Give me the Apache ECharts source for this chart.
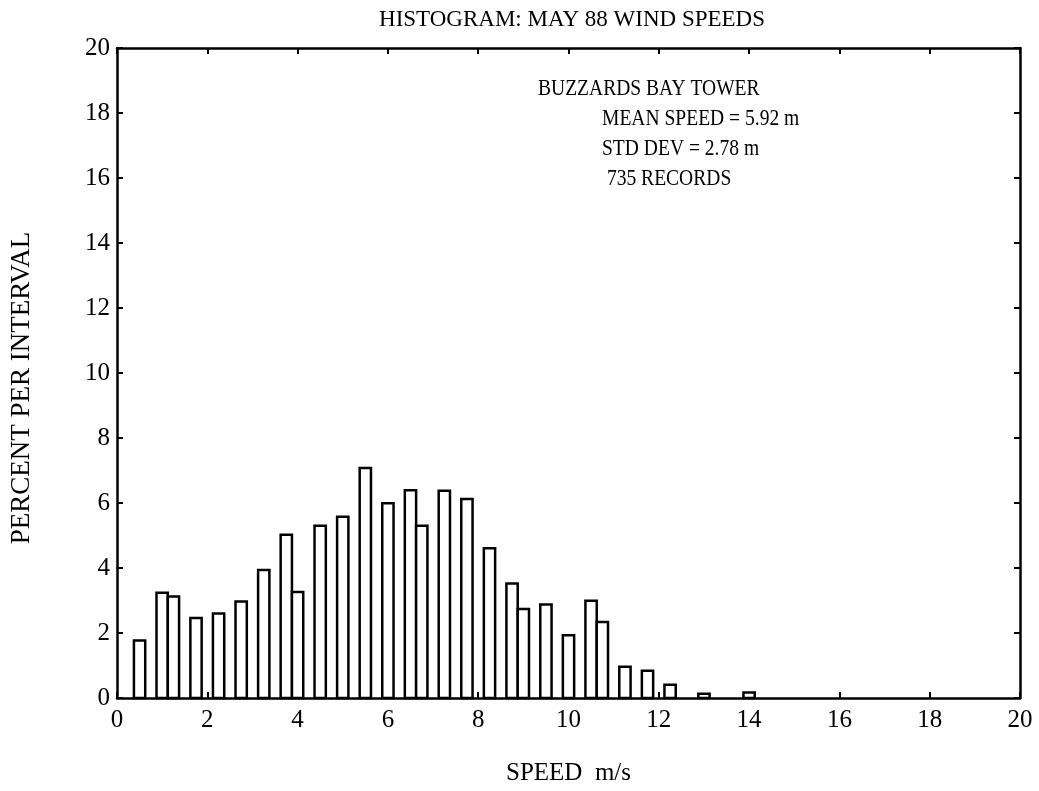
<!DOCTYPE html>
<html>
<head>
<meta charset="utf-8">
<script src="https://cdn.jsdelivr.net/npm/echarts@6/dist/echarts.min.js"></script>
<style>
html, body { margin: 0; padding: 0; background: #fff; }
#container { width: 1039px; height: 791px; }
</style>
</head>
<body>
<div id="container"></div>
<script>
// centre of each 0.25 m/s bin (m/s) and percent of records in it
var speeds = [0.5, 1.0, 1.25, 1.75, 2.25, 2.75, 3.25, 3.75, 4.0, 4.5,
              5.0, 5.5, 6.0, 6.5, 6.75, 7.25, 7.75, 8.25, 8.75, 9.0,
              9.5, 10.0, 10.5, 10.75, 11.25, 11.75, 12.25, 13.0, 14.0];
var percents = [1.77, 3.24, 3.12, 2.46, 2.60, 2.97, 3.94, 5.02, 3.26, 5.30,
                5.58, 7.08, 5.99, 6.39, 5.30, 6.38, 6.12, 4.61, 3.52, 2.74,
                2.88, 1.93, 2.99, 2.34, 0.96, 0.84, 0.41, 0.13, 0.17];
var binWidth = 0.25;

var titleText = 'HISTOGRAM: MAY 88 WIND SPEEDS';
var yTitle = 'PERCENT PER INTERVAL';
var notes = ['BUZZARDS BAY TOWER', 'MEAN SPEED = 5.92 m', 'STD DEV = 2.78 m', ' 735 RECORDS'];

var serif = '"Liberation Serif", "DejaVu Serif", serif';

function renderBar(params, api) {
    var x = api.value(0);
    var h = api.value(1);
    var p0 = api.coord([x - binWidth / 2, h]);
    var p1 = api.coord([x + binWidth / 2, 0]);
    return {
        type: 'rect',
        shape: { x: p0[0], y: p0[1], width: p1[0] - p0[0], height: p1[1] - p0[1] },
        style: { fill: '#fff', stroke: '#000', lineWidth: 2.5 }
    };
}

// all four sides of the box get an axis line with inward ticks
function axisBase(pos, showLabel) {
    return {
        type: 'value',
        position: pos,
        min: 0,
        max: 20,
        interval: 2,
        axisLine: { show: true, onZero: false, lineStyle: { color: '#000', width: 2.5 } },
        axisTick: { show: true, inside: true, length: 6, lineStyle: { color: '#000', width: 2 } },
        axisLabel: { show: showLabel, color: '#000', fontFamily: serif, fontSize: 25, margin: 7 },
        splitLine: { show: false }
    };
}

var data = speeds.map(function (s, i) { return [s, percents[i]]; });

var xBottom = axisBase('bottom', true);
xBottom.name = 'SPEED  m/s';
xBottom.nameLocation = 'middle';
xBottom.nameGap = 63;
xBottom.nameTextStyle = { color: '#000', fontFamily: serif, fontSize: 25 };
xBottom.axisLabel.margin = 10;

var notesText = notes.map(function (t, i) {
    return {
        type: 'text',
        x: i === 0 ? 538 : 602,
        y: 77 + i * 30,
        scaleX: 0.85,
        style: {
            text: t, fill: '#000', font: '23px ' + serif,
            textAlign: 'left', textVerticalAlign: 'top'
        }
    };
});

var dom = document.getElementById('container');
var myChart = echarts.init(dom);
var option = {
    backgroundColor: '#fff',
    animation: false,
    title: {
        text: titleText,
        left: 567,
        textAlign: 'center',
        top: 3,
        textStyle: { color: '#000', fontFamily: serif, fontSize: 23, fontWeight: 'normal' }
    },
    grid: { left: 117, right: 19, top: 48, bottom: 92 },
    xAxis: [xBottom, axisBase('top', false)],
    yAxis: [axisBase('left', true), axisBase('right', false)],
    graphic: notesText.concat([{
        type: 'text',
        x: 22,
        y: 388,
        rotation: Math.PI / 2,
        style: {
            text: yTitle, fill: '#000', font: '27px ' + serif,
            textAlign: 'center', textVerticalAlign: 'middle'
        }
    }]),
    series: [{
        type: 'custom',
        xAxisIndex: 0,
        yAxisIndex: 0,
        renderItem: renderBar,
        encode: { x: 0, y: 1 },
        data: data
    }]
};

if (option && typeof option === 'object') {
    myChart.setOption(option);
}
</script>
</body>
</html>
